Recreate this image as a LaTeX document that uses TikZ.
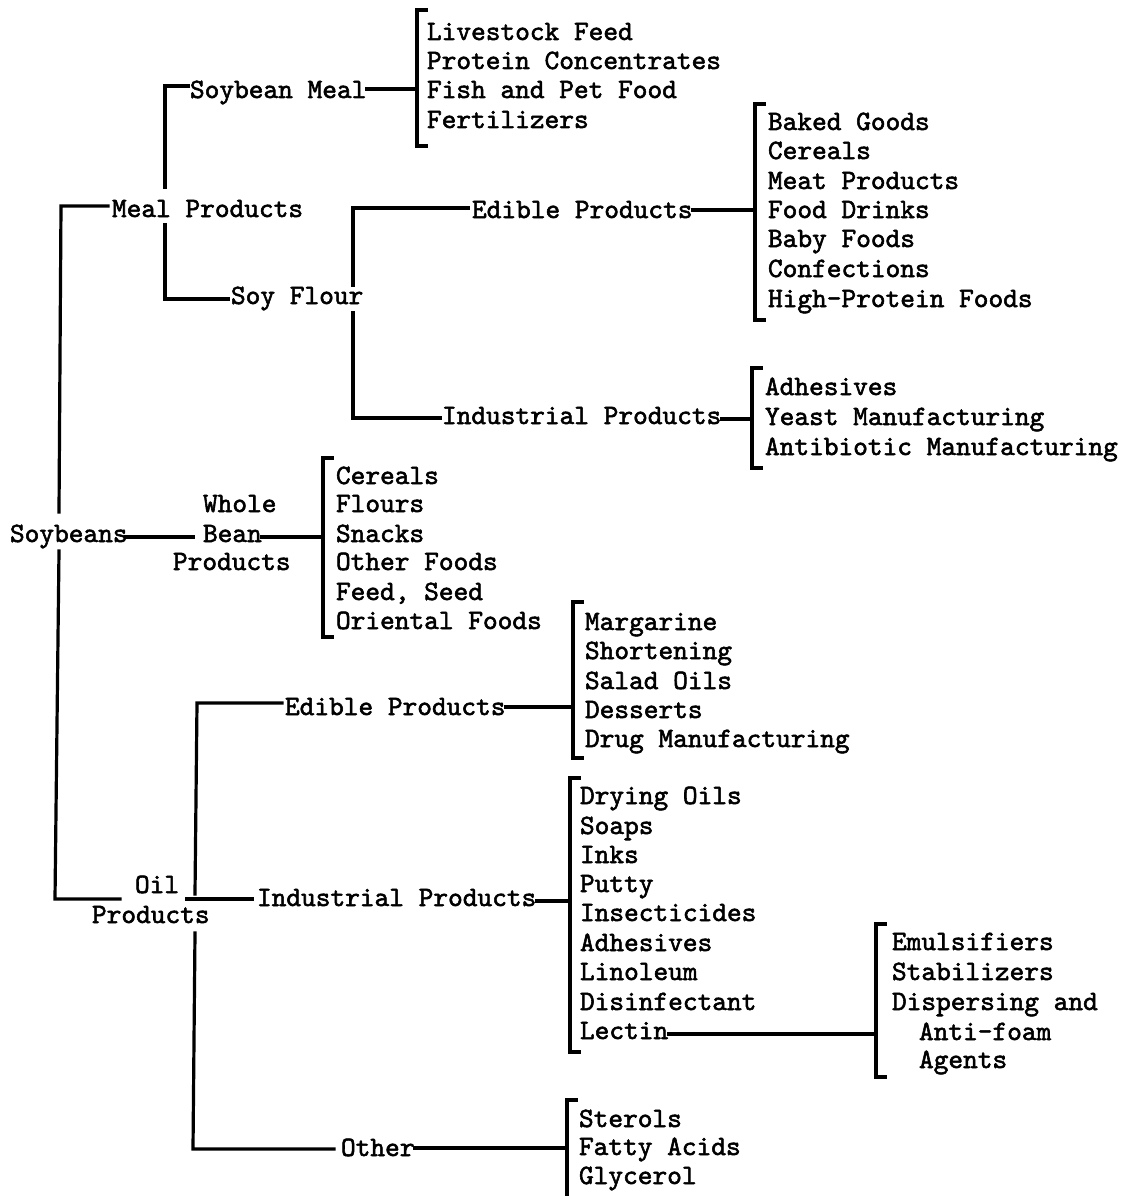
\documentclass[tikz,border=0pt]{standalone}
\usepackage{fontspec}
\newfontfamily\tw{lmmono10-regular}[Extension=.otf,FakeBold=2]
\tikzset{
  lbl/.style={anchor=base west, inner sep=0pt, outer sep=0pt, font=\tw\fontsize{28}{30}\selectfont},
  ln/.style={line width=3.2pt, line cap=rect},
  brk/.style={line width=3.2pt, line cap=rect, line join=miter}
}
\newcommand\bracketat[3]{\draw[brk] (#1+9,#2) -- (#1,#2) -- (#1,#3) -- (#1+9,#3);}
\begin{document}
\begin{tikzpicture}[x=1pt,y=-1pt]
\useasboundingbox (0,0) rectangle (1130,1196);
% ---------- texts ----------
\node[lbl] (lf) at (427,40) {Livestock Feed};
\node[lbl] (pc) at (427,69) {Protein Concentrates};
\node[lbl] (fp) at (427,98) {Fish and Pet Food};
\node[lbl] (fe) at (427,128) {Fertilizers};
\node[lbl] (sm) at (190,98) {Soybean Meal};
\node[lbl] (mp) at (112,217) {Meal Products};
\node[lbl] (sf) at (231,304) {Soy Flour};
\node[lbl] (ep1) at (472,218) {Edible Products};
\node[lbl] (bg) at (768,130) {Baked Goods};
\node[lbl] (ceA) at (768,159) {Cereals};
\node[lbl] (mt) at (768,189) {Meat Products};
\node[lbl] (fd) at (768,218) {Food Drinks};
\node[lbl] (bf) at (768,247) {Baby Foods};
\node[lbl] (cf) at (768,277) {Confections};
\node[lbl] (hp) at (768,307) {High-Protein Foods};
\node[lbl] (ip1) at (442,424) {Industrial Products};
\node[lbl] (adA) at (765,395) {Adhesives};
\node[lbl] (ym) at (765,425) {Yeast Manufacturing};
\node[lbl] (am) at (765,455) {Antibiotic Manufacturing};
\node[lbl] (sb) at (10,542) {Soybeans};
\node[lbl] (wh) at (203,512) {Whole};
\node[lbl] (be) at (203,542) {Bean};
\node[lbl] (wp) at (173,570) {Products};
\node[lbl] (ceB) at (336,484) {Cereals};
\node[lbl] (fl) at (336,512) {Flours};
\node[lbl] (sn) at (336,542) {Snacks};
\node[lbl] (of) at (336,570) {Other Foods};
\node[lbl] (fs) at (336,600) {Feed, Seed};
\node[lbl] (orf) at (336,629) {Oriental Foods};
\node[lbl] (oil) at (135,893) {Oil};
\node[lbl] (op) at (92,923) {Products};
\node[lbl] (ep2) at (285,715) {Edible Products};
\node[lbl] (mg) at (585,630) {Margarine};
\node[lbl] (sh) at (585,659) {Shortening};
\node[lbl] (so) at (585,689) {Salad Oils};
\node[lbl] (de) at (585,718) {Desserts};
\node[lbl] (dm) at (585,747) {Drug Manufacturing};
\node[lbl] (ip2) at (257,906) {Industrial Products};
\node[lbl] (dro) at (580,804) {Drying Oils};
\node[lbl] (sp) at (580,834) {Soaps};
\node[lbl] (ik) at (580,863) {Inks};
\node[lbl] (pt) at (580,892) {Putty};
\node[lbl] (ins) at (580,921) {Insecticides};
\node[lbl] (adB) at (580,951) {Adhesives};
\node[lbl] (li) at (580,980) {Linoleum};
\node[lbl] (di) at (580,1010) {Disinfectant};
\node[lbl] (le) at (580,1039) {Lectin};
\node[lbl] (em) at (892,950) {Emulsifiers};
\node[lbl] (st) at (892,980) {Stabilizers};
\node[lbl] (dp) at (892,1010) {Dispersing and};
\node[lbl] (af) at (919,1040) {Anti-foam};
\node[lbl] (ag) at (919,1068) {Agents};
\node[lbl] (ot) at (341,1156) {Other};
\node[lbl] (sr) at (579,1127) {Sterols};
\node[lbl] (fa) at (579,1155) {Fatty Acids};
\node[lbl] (gl) at (579,1184) {Glycerol};
% ---------- bracket junctions ----------
\coordinate (b1) at (417,89);
\coordinate (b2) at (755,210);
\coordinate (b3) at (752,419);
\coordinate (b4) at (323,537);
\coordinate (b5) at (573,707);
\coordinate (b6) at (570,901);
\coordinate (b7) at (567,1148);
\coordinate (b8) at (876,1034);
% ---------- brackets ----------
\bracketat{417}{10}{146}
\bracketat{755}{104}{320}
\bracketat{752}{368}{468}
\bracketat{323}{458}{637}
\bracketat{573}{602}{758}
\bracketat{570}{778}{1052}
\bracketat{876}{924}{1077}
\draw[brk] (567+9,1100) -- (567,1100) -- (567,1196);
% ---------- connectors ----------
% Soybeans trunk
\draw[ln] (108,206) -- (61,206) -- (59,512);
\draw[ln] (59,551) -- (55,899) -- (120,899);
\draw[ln] (126,537) -- (193,537);
\draw[ln] (be.east |- b4) -- (b4);
% Meal products
\draw[ln] (188,86) -- (165,86) -- (165,187);
\draw[ln] (165,225) -- (165,299) -- (228,299);
\draw[ln] (sm.east |- b1) -- (b1);
% Soy flour
\draw[ln] (468,208) -- (353,208) -- (353,285);
\draw[ln] (353,313) -- (353,418) -- (440,418);
\draw[ln] (ep1.east |- b2) -- (b2);
\draw[ln] (ip1.east |- b3) -- (b3);
% Oil products
\draw[ln] (282,703) -- (197,703) -- (195,894);
\draw[ln] (187,899) -- (252,899);
\draw[ln] (195,933) -- (193,1149) -- (334,1149);
\draw[ln] (ep2.east |- b5) -- (b5);
\draw[ln] (ip2.east |- b6) -- (b6);
\draw[ln] (ot.east |- b7) -- (b7);
\draw[ln] (le.east |- b8) -- (b8);
\end{tikzpicture}
\end{document}
